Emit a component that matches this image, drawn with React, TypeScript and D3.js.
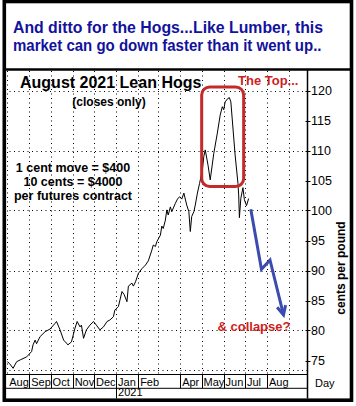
import React from "react";
import * as d3 from "d3";

// ---- data ----
const closeDates = [
  "2020-08-01","2020-08-04","2020-08-09","2020-08-14","2020-08-19","2020-08-28",
  "2020-09-04","2020-09-06","2020-09-09","2020-09-11","2020-09-16","2020-09-23","2020-09-30",
  "2020-10-07","2020-10-09","2020-10-14","2020-10-19","2020-10-23","2020-10-25","2020-10-30",
  "2020-11-04","2020-11-07","2020-11-11","2020-11-13","2020-11-16","2020-11-20","2020-11-25","2020-11-30",
  "2020-12-04","2020-12-09","2020-12-14","2020-12-19","2020-12-23","2020-12-28","2020-12-30",
  "2021-01-04","2021-01-09","2021-01-12","2021-01-16","2021-01-18","2021-01-23","2021-01-25","2021-01-28",
  "2021-02-01","2021-02-06","2021-02-11","2021-02-15","2021-02-20","2021-02-22","2021-02-25","2021-02-27",
  "2021-03-04","2021-03-06","2021-03-08","2021-03-11","2021-03-13","2021-03-15","2021-03-18","2021-03-20",
  "2021-03-25","2021-03-28","2021-03-31",
  "2021-04-03","2021-04-06","2021-04-10","2021-04-13","2021-04-15","2021-04-17","2021-04-20","2021-04-22",
  "2021-04-25","2021-04-28",
  "2021-05-02","2021-05-04","2021-05-06","2021-05-10","2021-05-13","2021-05-18","2021-05-23","2021-05-27",
  "2021-05-30",
  "2021-06-01","2021-06-03","2021-06-07","2021-06-09","2021-06-11","2021-06-17","2021-06-21","2021-06-22",
  "2021-06-23","2021-06-25","2021-06-28","2021-06-30",
  "2021-07-03","2021-07-06",
];
const closeValues = [
  74.8, 74.5, 73.7, 74.8, 75.1, 75.6,
  76.5, 77.6, 78.4, 77.8, 79.0, 79.8, 80.25,
  81.2, 81.5, 80.1, 78.4, 77.9, 77.6, 78.1,
  80.4, 81.5, 80.6, 80.9, 78.7, 80.1, 80.9, 81.5,
  80.9, 80.1, 80.6, 81.5, 81.75, 82.3, 83.4,
  84.0, 86.5, 86.0, 84.8, 87.4, 87.9, 87.4, 88.1,
  89.5, 90.3, 90.9, 91.6, 93.4, 94.25, 94.0, 94.8,
  95.9, 97.4, 97.0, 98.4, 100.1, 99.25, 100.6, 99.8,
  101.2, 101.9, 102.3,
  101.9, 102.9, 100.9, 99.8, 96.5, 99.0, 99.8, 100.9,
  102.9, 104.5,
  106.75, 109.0, 110.1, 107.5, 105.1, 109.5, 112.9, 115.9,
  117.3,
  116.8, 118.1, 118.7, 118.8, 118.1, 109.25, 104.5, 102.6,
  98.8, 102.0, 103.8, 101.8,
  100.8, 102.0,
];

// projected path (blue arrow)
const arrowDates = ["2021-07-09", "2021-07-24", "2021-08-05", "2021-08-24"];
const arrowValues = [100.2, 90.2, 91.75, 82.6];

// "The Top" box corners
const topBoxDates = ["2021-05-01", "2021-06-29"];
const topBoxValues = [120.6, 104.0];

const monthStarts = [
  "2020-08-01","2020-09-01","2020-10-01","2020-11-01","2020-12-01","2021-01-01","2021-02-01",
  "2021-03-01","2021-04-01","2021-05-01","2021-06-01","2021-07-01","2021-08-01","2021-09-01",
];
const monthLabels = ["Aug","Sep","Oct","Nov","Dec","Jan","Feb","","Apr","May","Jun","Jul","Aug",""];
const yearLabel = "2021";
const yTicks = [75, 80, 85, 90, 95, 100, 105, 110, 115, 120];
const yGrid = [80, 90, 100, 110, 120];

const headline1 = "And ditto for the Hogs...Like Lumber, this";
const headline2 = "market can go down faster than it went up..";
const chartTitle = "August 2021 Lean Hogs";
const subTitle = "(closes only)";
const noteLines = ["1 cent move = $400", "10 cents = $4000", "per futures contract"];

const parse = d3.timeParse("%Y-%m-%d");

export default function App() {
  const W = 356, H = 406;
  const plotLeft = 5, plotRight = 307.5, plotTop = 71, axisTop = 374.5, axisMid = 388.3, axisBottom = 398.5;

  const x = d3.scaleTime()
    .domain([new Date(2020, 7, 1), new Date(2021, 8, 26)])
    .range([7.4, 307]);
  const y = d3.scaleLinear().domain([75, 120]).range([360.5, 90.5]);

  const pts = closeDates.map((d, i) => [x(parse(d)!), y(closeValues[i])] as [number, number]);
  const line = d3.line();
  const pricePath = line(pts) || "";

  const arrowPts = arrowDates.map((d, i) => [x(parse(d)!), y(arrowValues[i])] as [number, number]);
  const arrowPath = line(arrowPts) || "";
  const [ax1, ay1] = arrowPts[arrowPts.length - 2];
  const [ax2, ay2] = arrowPts[arrowPts.length - 1];
  const ang = Math.atan2(ay2 - ay1, ax2 - ax1);
  const hl = 10;
  const head = [
    [ax2 - hl * Math.cos(ang - 0.45), ay2 - hl * Math.sin(ang - 0.45)],
    [ax2, ay2],
    [ax2 - hl * Math.cos(ang + 0.45), ay2 - hl * Math.sin(ang + 0.45)],
  ];

  const bx1 = x(parse(topBoxDates[0])!), bx2 = x(parse(topBoxDates[1])!);
  const by1 = y(topBoxValues[0]), by2 = y(topBoxValues[1]);

  const months = monthStarts.map((d) => x(parse(d)!));
  const font = "'Liberation Sans', Arial, sans-serif";
  const blue = "#12129c";
  const red = "#cc1f1f";

  return (
    <svg width={W} height={H} style={{ position: "absolute", left: 0, top: 0, background: "#fff" }} fontFamily={font}>
      <rect x={0} y={0} width={W} height={H} fill="#fff" />
      {/* headline */}
      <text x={13} y={33.3} fontSize={16} fontWeight="bold" fill={blue} textLength={310} lengthAdjust="spacingAndGlyphs">{headline1}</text>
      <text x={13} y={50.5} fontSize={16} fontWeight="bold" fill={blue} textLength={308.5} lengthAdjust="spacingAndGlyphs">{headline2}</text>

      {/* grid */}
      <g stroke="#000" strokeWidth={1} strokeDasharray="1,3.5">
        {yGrid.map((v) => (
          <line key={"h" + v} x1={plotLeft} x2={plotRight} y1={Math.round(y(v)) + 0.5} y2={Math.round(y(v)) + 0.5} />
        ))}
        <line x1={plotLeft} x2={plotRight} y1={370.5} y2={370.5} />
        {months.map((mx, i) => (
          <line key={"v" + i} x1={Math.round(mx) + 0.5} x2={Math.round(mx) + 0.5} y1={plotTop} y2={axisTop} />
        ))}
      </g>

      {/* chart title & notes */}
      <text x={20} y={88} fontSize={16} fontWeight="bold" fill="#000">{chartTitle}</text>
      <text x={109} y={106} fontSize={12} fontWeight="bold" fill="#000" textAnchor="middle">{subTitle}</text>
      {noteLines.map((t, i) => (
        <text key={t} x={73} y={[171.5, 185.5, 200][i]} fontSize={12.5} fontWeight="bold" fill="#000" textAnchor="middle">{t}</text>
      ))}

      {/* price */}
      <path d={pricePath} fill="none" stroke="#000" strokeWidth={1} strokeLinejoin="round" />

      {/* top box */}
      <rect x={bx1} y={by1} width={bx2 - bx1} height={by2 - by1} rx={8} ry={8} fill="none" stroke="#c42a2a" strokeWidth={3} />
      <text x={238} y={85} fontSize={13} fontWeight="bold" fill={red}>The Top...</text>

      {/* arrow */}
      <path d={arrowPath} fill="none" stroke="#3b4bb0" strokeWidth={3} strokeLinejoin="miter" />
      <path d={line(head as [number, number][]) || ""} fill="none" stroke="#3b4bb0" strokeWidth={3} />
      <text x={217.5} y={331} fontSize={13} fontWeight="bold" fill={red}>&amp; collapse?</text>

      {/* right axis */}
      <line x1={plotRight} x2={plotRight} y1={70} y2={axisBottom} stroke="#000" strokeWidth={1.5} />
      {yTicks.map((v) => (
        <g key={"t" + v}>
          <line x1={plotRight - 2} x2={plotRight + 3} y1={Math.round(y(v)) + 0.5} y2={Math.round(y(v)) + 0.5} stroke="#000" strokeWidth={1} />
          <text x={311} y={y(v) + 4.5} fontSize={12.5} fill="#000">{v}</text>
        </g>
      ))}
      <text transform="translate(344.5,268) rotate(-90)" fontSize={12} fontWeight="bold" textAnchor="middle" fill="#000">cents per pound</text>

      {/* date axis band */}
      <line x1={plotLeft} x2={plotRight} y1={axisTop} y2={axisTop} stroke="#000" strokeWidth={1} />
      <line x1={plotLeft} x2={plotRight} y1={axisMid} y2={axisMid} stroke="#000" strokeWidth={1} />
      {months.map((mx, i) =>
        monthLabels[i] ? (
          <g key={"m" + i}>
            {i > 0 && (
              <line x1={Math.round(mx) + 0.5} x2={Math.round(mx) + 0.5} y1={axisTop} y2={monthLabels[i] === "Jan" ? axisBottom : axisMid} stroke="#000" strokeWidth={1} />
            )}
            <text x={mx + 1.8} y={385.5} fontSize={11} fill="#000">{monthLabels[i]}</text>
          </g>
        ) : null
      )}
      <text x={months[5] + 1.8} y={396} fontSize={11} fill="#000">{yearLabel}</text>
      <text x={315} y={386.5} fontSize={11} fill="#000">Day</text>

      {/* separator & outer frame */}
      <line x1={3} x2={352} y1={69.5} y2={69.5} stroke="#000" strokeWidth={2.5} />
      <rect x={4.3} y={1.5} width={347.2} height={398.7} fill="none" stroke="#000" strokeWidth={3.6} />
    </svg>
  );
}
